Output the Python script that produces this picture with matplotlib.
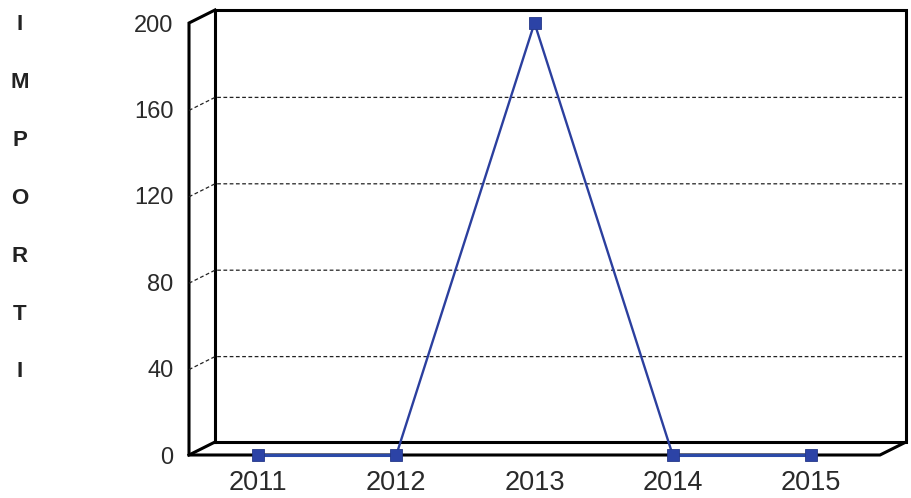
import matplotlib
matplotlib.use("Agg")
import matplotlib.pyplot as plt

# values
years = ["2011", "2012", "2013", "2014", "2015"]
values = [0, 0, 200, 0, 0]
y_ticks = [0, 40, 80, 120, 160, 200]
side_letters = ["I", "M", "P", "O", "R", "T", "I"]

W, H = 911, 498
plt.rcParams['font.family'] = ['Liberation Sans', 'DejaVu Sans']

fig = plt.figure(figsize=(W/100, H/100), dpi=100)

# front plane of the fake 3d box, in pixels
left, right = 189, 880
top, bottom = 23, 455
dx, dy = 26, 13  # depth of the box

ax = fig.add_axes([left/W, 1 - bottom/H, (right-left)/W, (bottom-top)/H], zorder=2)
ax.set_xlim(-0.5, 4.5)
ax.set_ylim(0, 200)
ax.patch.set_alpha(0)
for s in ax.spines.values():
    s.set_visible(False)

ax.set_xticks(range(5))
ax.set_xticklabels(years, fontsize=19.5, color="#2a2a2a")
ax.set_yticks(y_ticks)
ax.set_yticklabels(y_ticks, fontsize=17, color="#2a2a2a")
ax.tick_params(axis="x", length=0, pad=10.5)
ax.tick_params(axis="y", length=0, pad=11)

# overlay in pixel coordinates for the box and the gridlines
ov = fig.add_axes([0, 0, 1, 1], zorder=0)
ov.set_xlim(0, W)
ov.set_ylim(H, 0)
ov.axis("off")

def ypix(v):
    return bottom - v*(bottom-top)/200

# back wall
ov.plot([left+dx, left+dx, right+dx, right+dx, left+dx],
        [bottom-dy, top-dy, top-dy, bottom-dy, bottom-dy],
        color="black", lw=2.2, solid_joinstyle="miter")
# left wall and floor
ov.plot([left+dx, left, left, right, right+dx],
        [top-dy, top, bottom, bottom, bottom-dy],
        color="black", lw=2.2, solid_joinstyle="miter")
ov.plot([left, left+dx], [bottom, bottom-dy], color="black", lw=2.2)

# dashed gridlines, running back from the left wall
for v in y_ticks[1:-1]:
    yp = ypix(v) + 1
    ov.plot([left, left+dx, right+dx-3], [yp, yp-dy, yp-dy],
            color="#222222", lw=0.9, dashes=(3, 2))

ax.plot(range(5), values, color="#2b3f9e", lw=1.7, zorder=4, clip_on=False)
ax.plot([0, 1], [0, 0], color="#2b4aa8", lw=2.2, zorder=4, clip_on=False)
ax.plot([3, 4], [0, 0], color="#2b4aa8", lw=2.2, zorder=4, clip_on=False)
ax.plot(range(5), values, ls="none", marker="s", ms=9,
        mfc="#2c43a6", mec="#243788", mew=0.6, clip_on=False, zorder=5)

# vertical title down the left side
for i, letter in enumerate(side_letters):
    fig.text(20/W, 1 - (25 + i*57.8)/H, letter, fontsize=16, fontweight="bold",
             ha="center", va="center", color="#222222")

fig.savefig("out.png", dpi=100)
